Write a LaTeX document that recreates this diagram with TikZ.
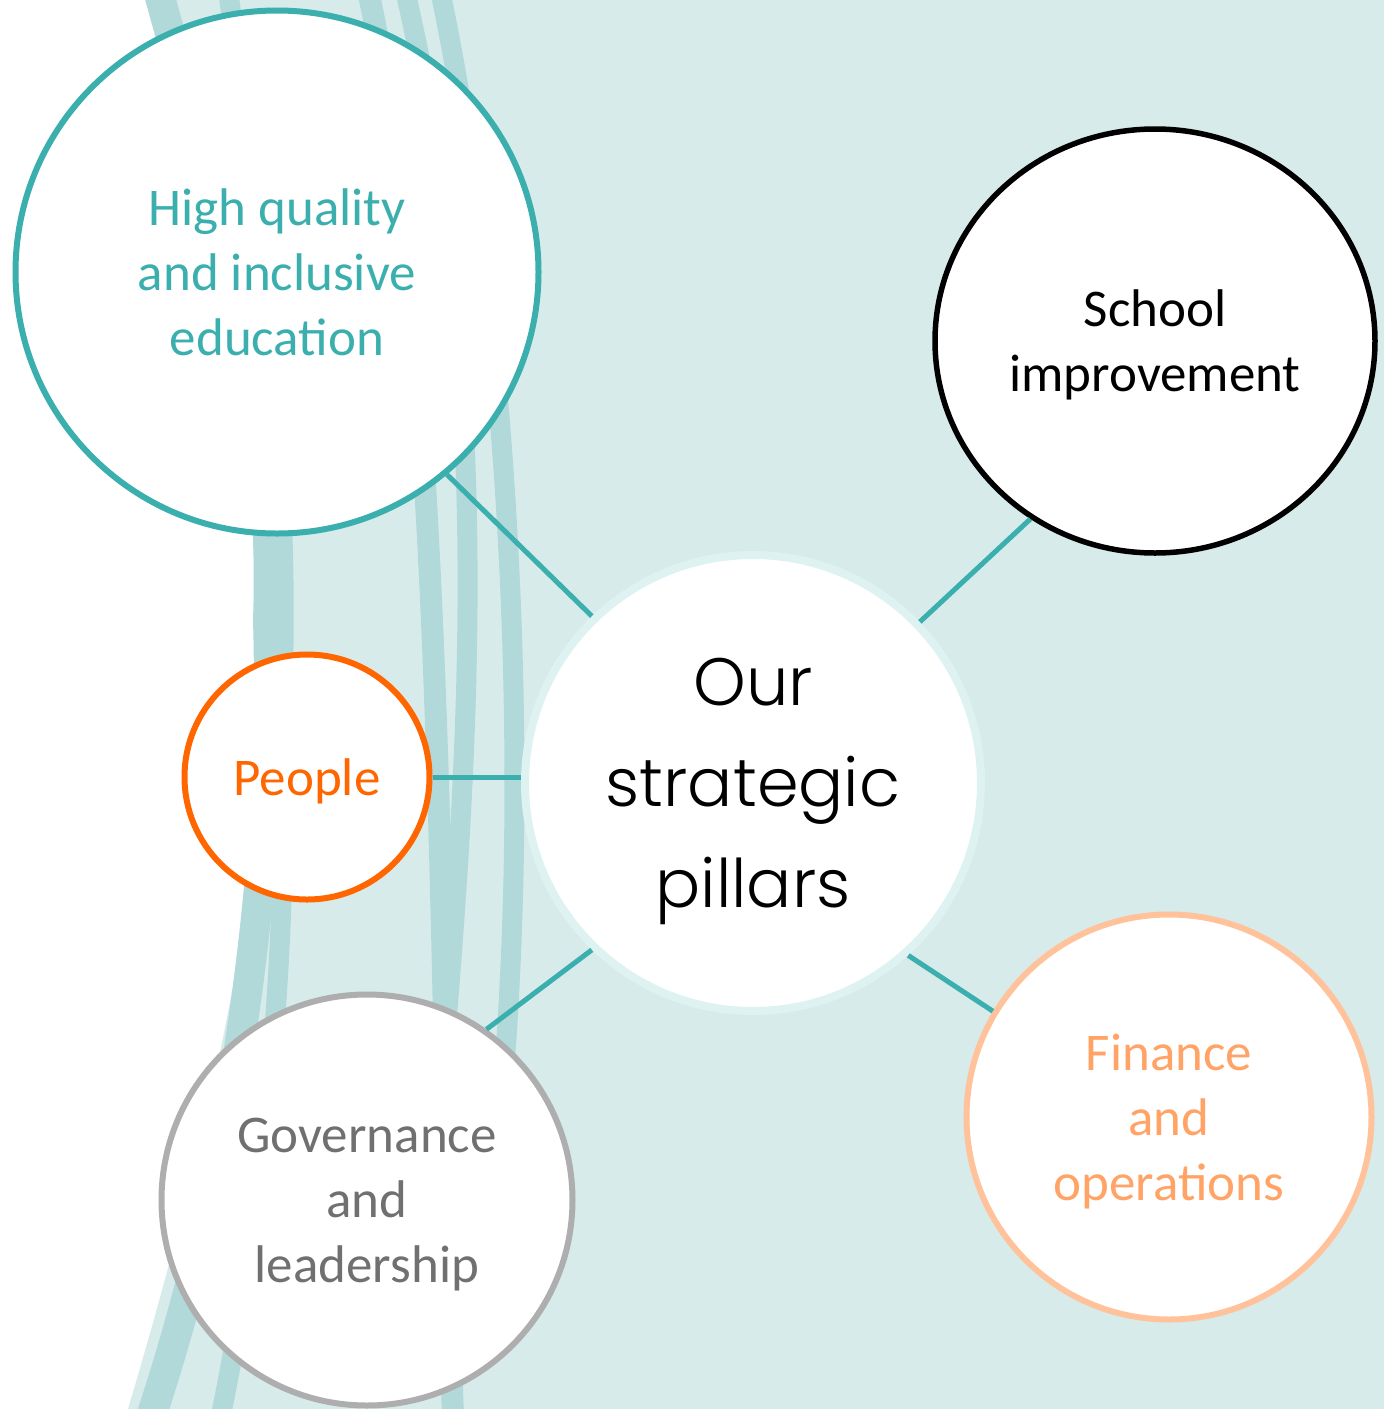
\documentclass[tikz,border=0pt]{standalone}
\usepackage{fontspec}
\setmainfont{Carlito}
\newfontfamily\hubfont{Poppins Light}
\usetikzlibrary{positioning,shapes.geometric}

\definecolor{tealline}{RGB}{58,175,174}
\definecolor{wash}{RGB}{216,235,235}
\definecolor{brush}{RGB}{178,217,218}
\definecolor{halo}{RGB}{222,242,242}
\definecolor{peopleorange}{RGB}{255,102,0}
\definecolor{finborder}{RGB}{255,194,154}
\definecolor{fintext}{RGB}{255,164,102}
\definecolor{govborder}{RGB}{174,174,174}
\definecolor{govtext}{RGB}{112,112,112}

\tikzset{
  pillar/.style={circle, fill=white, line width=6pt, inner sep=0pt, align=center,
    text depth=0pt, font=\fontsize{53}{65}\selectfont},
  hub/.style={circle, fill=white, draw=halo, line width=8pt, inner sep=0pt, text depth=0pt,
    minimum size=456pt, align=center, font=\hubfont\fontsize{67}{101}\selectfont},
  link/.style={draw=tealline, line width=5pt},
  brushline/.style={draw=brush, line width=#1, line cap=round},
}

\begin{document}
\begin{tikzpicture}[x=1pt, y=-1pt]
\useasboundingbox (0,0) rectangle (1384,1409);
\clip (0,0) rectangle (1384,1409);
% background wash and brush strokes
\fill[white] (0,0) rectangle (1384,1409);
\fill[wash] (148,0) -- (1384,0) -- (1384,1409) -- (128,1409)
  .. controls (235,1050) and (285,760) .. (262,560)
  .. controls (240,350) and (185,150) .. (148,0) -- cycle;
\draw[brushline=30pt] (158,-10) .. controls (230,250) and (275,420) .. (268,620)
  .. controls (275,850) and (240,1150) .. (150,1420);
\draw[brushline=20pt] (228,-10) .. controls (270,300) and (290,500) .. (282,700)
  .. controls (290,950) and (265,1200) .. (220,1420);
\draw[brushline=22pt] (368,-10) .. controls (445,350) and (440,1000) .. (453,1420);
\draw[brushline=20pt] (405,-10) .. controls (495,380) and (470,750) .. (440,1100);
\draw[brushline=20pt] (440,-10) .. controls (515,350) and (530,800) .. (500,1120);

% pillars
\node[hub] (hub) at (753,783) {Our\\strategic\\pillars};
\node[pillar, draw=tealline, text=tealline, minimum size=523pt] (quality) at (277,272)
  {High quality\\and inclusive\\education};
\node[pillar, ellipse, draw=black, line width=5.5pt, minimum width=440pt, minimum height=424pt]
  (school) at (1155,341) {School\\improvement};
\node[pillar, draw=peopleorange, text=peopleorange, minimum size=245pt] (people) at (307,777)
  {People};
\node[pillar, draw=govborder, text=govtext, minimum size=411pt] (gov) at (367,1200)
  {Governance\\and\\leadership};
\node[pillar, draw=finborder, text=fintext, minimum size=405pt] (finance) at (1169,1117)
  {Finance\\and\\operations};

% connectors
\draw[link] (quality.310) -- (hub.134);
\draw[link] (school.235) -- (hub.44);
\draw[link] (people.east) -- (people.east -| hub.west);
\draw[link] (gov.55) -- (hub.226);
\draw[link] (finance.149) -- (hub.312);
\end{tikzpicture}
\end{document}
